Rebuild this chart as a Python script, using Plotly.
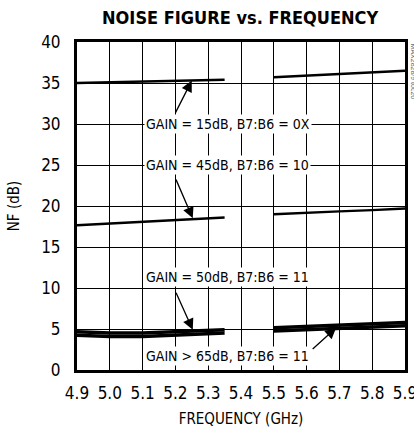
import plotly.graph_objects as go

# Noise figure (dB) vs frequency (GHz), two bands per gain setting
freq_lo = [4.9, 5.0, 5.1, 5.2, 5.3, 5.35]
freq_hi = [5.5, 5.6, 5.7, 5.8, 5.9]

nf_15_lo = [35.0, 35.1, 35.2, 35.3, 35.35, 35.4]
nf_15_hi = [35.7, 35.9, 36.1, 36.3, 36.5]

nf_45_lo = [17.65, 17.85, 18.05, 18.3, 18.5, 18.6]
nf_45_hi = [19.0, 19.2, 19.35, 19.5, 19.7]

nf_50_lo = [4.65, 4.5, 4.5, 4.7, 4.85, 4.9]
nf_50_hi = [5.15, 5.3, 5.45, 5.62, 5.8]

nf_65_lo = [4.25, 4.1, 4.1, 4.3, 4.45, 4.5]
nf_65_hi = [4.75, 4.9, 5.05, 5.22, 5.4]

x_ticks = [4.9, 5.0, 5.1, 5.2, 5.3, 5.4, 5.5, 5.6, 5.7, 5.8, 5.9]
y_ticks = [0, 5, 10, 15, 20, 25, 30, 35, 40]

FONT = "DejaVu Sans Condensed, Liberation Sans Narrow, Liberation Sans, sans-serif"

fig = go.Figure()
series = [
    (freq_lo, nf_15_lo, 2.4), (freq_hi, nf_15_hi, 2.4),
    (freq_lo, nf_45_lo, 2.4), (freq_hi, nf_45_hi, 2.4),
    (freq_lo, nf_50_lo, 3.5), (freq_hi, nf_50_hi, 3.5),
    (freq_lo, nf_65_lo, 3.5), (freq_hi, nf_65_hi, 3.5),
]
for xs, ys, w in series:
    fig.add_trace(go.Scatter(x=xs, y=ys, mode="lines",
                             line=dict(color="black", width=w),
                             showlegend=False, hoverinfo="skip"))

labels = [
    ("GAIN = 15dB, B7:B6 = 0X", 5.36, 30.0),
    ("GAIN = 45dB, B7:B6 = 10", 5.36, 25.0),
    ("GAIN = 50dB, B7:B6 = 11", 5.36, 11.3),
    ("GAIN > 65dB, B7:B6 = 11", 5.36, 1.75),
]
for txt, x, y in labels:
    fig.add_annotation(x=x, y=y, text=txt, showarrow=False,
                       bgcolor="white", borderpad=1,
                       font=dict(family=FONT, size=14, color="black"))

arrows = [
    (5.25, 35.3, 5.198, 31.2),
    (5.253, 18.5, 5.2, 23.4),
    (5.253, 4.9, 5.2, 9.6),
    (5.69, 5.15, 5.614, 2.4),
]
for hx, hy, tx, ty in arrows:
    fig.add_annotation(x=hx, y=hy, ax=tx, ay=ty, xref="x", yref="y",
                       axref="x", ayref="y", text="", showarrow=True,
                       arrowhead=2, arrowsize=1.7, arrowwidth=1.3,
                       arrowcolor="black", standoff=0)

fig.add_annotation(x=1.012, y=1.0, xref="paper", yref="paper",
                   text="MAX2828/9 toc26", showarrow=False, textangle=90,
                   xanchor="left", yanchor="top",
                   font=dict(family="Liberation Sans", size=7, color="#666"))

fig.update_layout(
    width=414, height=432,
    margin=dict(l=77, r=9, t=42, b=62),
    paper_bgcolor="white", plot_bgcolor="white",
    title=dict(text="<b>NOISE FIGURE vs. FREQUENCY</b>", x=0.58, xanchor="center",
               y=0.96, yanchor="middle",
               font=dict(family=FONT, size=18, color="black")),
    font=dict(family=FONT, color="black"),
)
fig.update_xaxes(range=[4.9, 5.9], tickvals=x_ticks,
                 ticktext=[f"{v:.1f}" for v in x_ticks],
                 showgrid=True, gridcolor="black", gridwidth=1,
                 showline=True, linecolor="black", linewidth=3, mirror=True,
                 zeroline=False, ticks="", tickfont=dict(size=17),
                 ticklabelstandoff=6, ticklabeloverflow="allow", automargin=False,
                 title=dict(text="FREQUENCY (GHz)", font=dict(size=15), standoff=12))
fig.update_yaxes(range=[0, 40], tickvals=y_ticks,
                 showgrid=True, gridcolor="black", gridwidth=1,
                 showline=True, linecolor="black", linewidth=3, mirror=True,
                 zeroline=False, ticks="", tickfont=dict(size=17),
                 ticklabelstandoff=10, automargin=False,
                 title=dict(text="NF (dB)", font=dict(size=15), standoff=18))

fig.write_html("out.html")
